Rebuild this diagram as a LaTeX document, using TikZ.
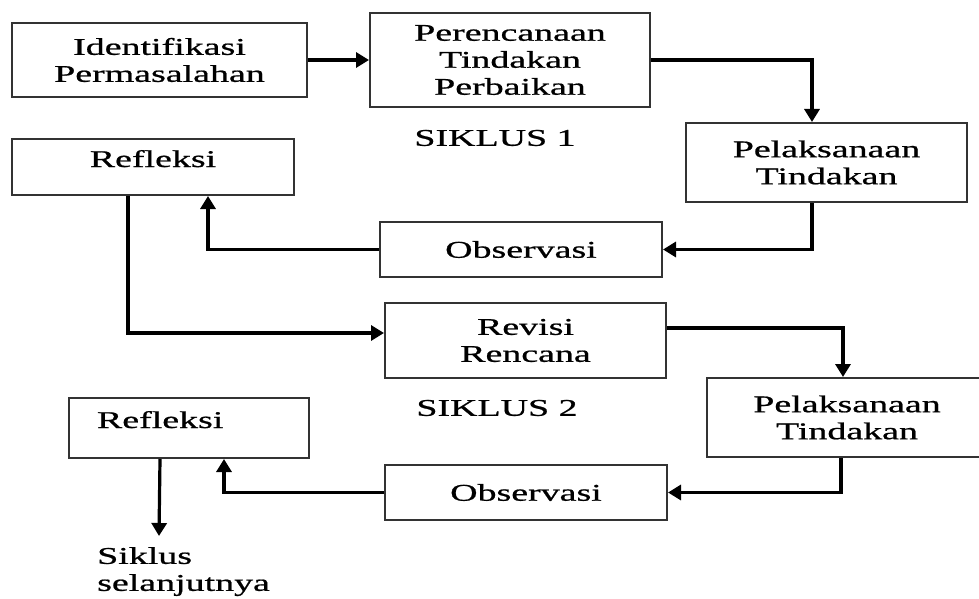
\documentclass[tikz,border=0pt]{standalone}
\usepackage{fontspec}
\setmainfont{Liberation Serif}[FakeStretch=1.58, FakeBold=0.8]
\usepackage{tikz}
\usetikzlibrary{shapes, arrows.meta, positioning}
\tikzstyle{huruf} = [font=\fontsize{24}{27}\selectfont]
\tikzstyle{kotak} = [huruf, draw=black!80, line width=2pt, rectangle, align=center, inner sep=0pt]
\tikzstyle{panah} = [line width=3.2pt, -{Triangle[width=15pt,length=13pt]}]
\tikzstyle{judul} = [huruf, inner sep=0pt]

\begin{document}
\begin{tikzpicture}[x=1pt, y=-1pt]
	\useasboundingbox (0,0) rectangle (979,599);
	% siklus 1
	\node [kotak, minimum width=295pt, minimum height=74pt] (ident) at (159.5,60) {Identifikasi\\Permasalahan};
	\node [kotak, minimum width=280pt, minimum height=94pt] (rencana) at (510,60) {Perencanaan\\Tindakan\\Perbaikan};
	\node [kotak, minimum width=281pt, minimum height=79pt] (laksana1) at (826.5,162.5) {Pelaksanaan\\Tindakan};
	\node [kotak, minimum width=282pt, minimum height=55pt] (obs1) at (521,249.5) {Observasi};
	\node [kotak, minimum width=282pt, text height=28pt, text depth=28pt, anchor=north] (refl1) at (153,138) {Refleksi};
	\node [judul] (siklus1) at (495,138) {SIKLUS 1};
	% siklus 2
	\node [kotak, minimum width=281pt, minimum height=75pt] (revisi) at (525.5,340.5) {Revisi\\Rencana};
	\node [kotak, minimum width=280pt, minimum height=79pt] (laksana2) at (847,417.5) {Pelaksanaan\\Tindakan};
	\node [kotak, minimum width=282pt, minimum height=55pt] (obs2) at (526,492.5) {Observasi};
	\node [kotak, inner xsep=28pt, text width=184pt, align=left, text height=30pt, text depth=30pt, anchor=north west] (refl2) at (68,397) {Refleksi};
	\node [judul] (siklus2) at (497,408) {SIKLUS 2};
	\coordinate (ujung) at (159,536);
	\node [judul, align=left, anchor=north west] (lanjut) at (97,547) {Siklus\\selanjutnya};

	\draw [panah] (ident.east) -- (rencana.west);
	\draw [panah] (rencana.east) -| ([xshift=-14.5pt]laksana1.north);
	\draw [panah] ([xshift=-14.5pt]laksana1.south) |- (obs1.east);
	\draw [panah] (obs1.west) -| ([xshift=55pt]refl1.south);
	\draw [panah] ([xshift=-25pt]refl1.south) |- ([yshift=7.5pt]revisi.west);
	\draw [panah] ([yshift=12.5pt]revisi.east) -| ([xshift=-4pt]laksana2.north);
	\draw [panah] ([xshift=-6pt]laksana2.south) |- (obs2.east);
	\draw [panah] (obs2.west) -| ([xshift=35pt]refl2.south);
	\draw [panah] ([xshift=-29pt]refl2.south) -- (ujung);
\end{tikzpicture}
\end{document}
